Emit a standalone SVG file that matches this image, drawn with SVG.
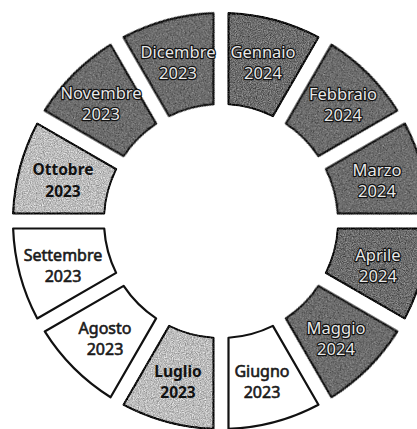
<svg xmlns="http://www.w3.org/2000/svg" xmlns:xlink="http://www.w3.org/1999/xlink" width="417" height="429" viewBox="0 0 417 429">
<defs>
<path id="w" d="M228.5,13.14 A208,208 0 0 1 318.44,37.23 L272.88,116.13 A117,117 0 0 0 228.5,104.24 Z"/>
<filter id="grain" x="-0.05" y="-0.05" width="1.1" height="1.1" color-interpolation-filters="sRGB">
<feTurbulence type="fractalNoise" baseFrequency="0.85" numOctaves="2" seed="4" result="t"/>
<feColorMatrix in="t" type="matrix" values="1 0 0 0 0  1 0 0 0 0  1 0 0 0 0  0 0 0 0 1" result="g"/>
<feComposite in="SourceGraphic" in2="g" operator="arithmetic" k1="0" k2="1" k3="0.6" k4="-0.3" result="m"/>
<feComposite in="m" in2="SourceGraphic" operator="in"/>
</filter>
<style>
.seg{stroke:#111;stroke-width:2.2;stroke-linejoin:round}
.d{fill:#6c6c6c;filter:url(#grain)}
.l{fill:#bcbcbc;filter:url(#grain)}
.n{fill:#ffffff}
text{font-family:"Noto Sans","Open Sans",sans-serif;font-size:16px;text-anchor:middle}
.td{fill:#e8e8e8;stroke:#111;stroke-width:2.4;paint-order:stroke;stroke-linejoin:round;font-size:16.5px}
.tl{fill:#111;font-weight:bold;font-size:15.5px}
.tn{fill:#1a1a1a;stroke:#1a1a1a;stroke-width:0.6}
</style>
</defs>
<rect width="417" height="429" fill="#ffffff"/>
<g id="gennaio"><use xlink:href="#w" class="seg d"/><text class="td" x="263" y="58">Gennaio</text><text class="td" x="263" y="79">2024</text></g>
<g id="febbraio"><use xlink:href="#w" class="seg d" transform="rotate(30 221 221)"/><text class="td" x="343" y="100">Febbraio</text><text class="td" x="343" y="121">2024</text></g>
<g id="marzo"><use xlink:href="#w" class="seg d" transform="rotate(60 221 221)"/><text class="td" x="377" y="176">Marzo</text><text class="td" x="377" y="197">2024</text></g>
<g id="aprile"><use xlink:href="#w" class="seg d" transform="rotate(90 221 221)"/><text class="td" x="378" y="261">Aprile</text><text class="td" x="378" y="282">2024</text></g>
<g id="maggio"><use xlink:href="#w" class="seg d" transform="rotate(120 221 221)"/><text class="td" x="336" y="334">Maggio</text><text class="td" x="336" y="355">2024</text></g>
<g id="giugno"><use xlink:href="#w" class="seg n" transform="rotate(150 221 221)"/><text class="tn" x="262" y="377">Giugno</text><text class="tn" x="262" y="398">2023</text></g>
<g id="luglio"><use xlink:href="#w" class="seg l" transform="rotate(180 221 221)"/><text class="tl" x="178" y="377">Luglio</text><text class="tl" x="178" y="398">2023</text></g>
<g id="agosto"><use xlink:href="#w" class="seg n" transform="rotate(210 221 221)"/><text class="tn" x="105" y="334">Agosto</text><text class="tn" x="105" y="355">2023</text></g>
<g id="settembre"><use xlink:href="#w" class="seg n" transform="rotate(240 221 221)"/><text class="tn" x="63" y="261">Settembre</text><text class="tn" x="63" y="282">2023</text></g>
<g id="ottobre"><use xlink:href="#w" class="seg l" transform="rotate(270 221 221)"/><text class="tl" x="63" y="175">Ottobre</text><text class="tl" x="63" y="197">2023</text></g>
<g id="novembre"><use xlink:href="#w" class="seg d" transform="rotate(300 221 221)"/><text class="td" x="101" y="99">Novembre</text><text class="td" x="101" y="120">2023</text></g>
<g id="dicembre"><use xlink:href="#w" class="seg d" transform="rotate(330 221 221)"/><text class="td" x="178" y="58">Dicembre</text><text class="td" x="178" y="79">2023</text></g>
<g id="connectors"/>
</svg>
